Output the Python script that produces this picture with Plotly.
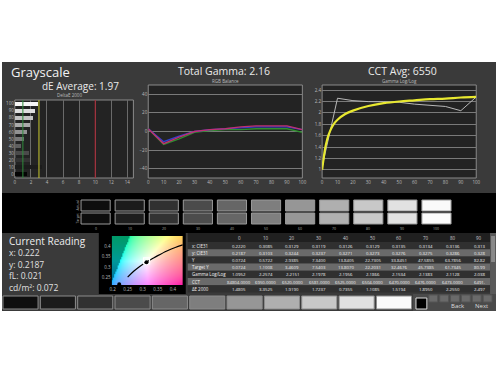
import plotly.graph_objects as go
import struct, zlib, base64

W, H = 500, 375
def PX(p): return p / W
def PY(p): return 1 - p / H

# ---------------- data ----------------
levels = [0, 10, 20, 30, 40, 50, 60, 70, 80, 90, 100]
level_labels = [str(v) for v in levels]
de2000 = [1.48, 3.35, 1.92, 1.72, 0.74, 1.11, 1.52, 1.90, 2.26, 2.50, 2.80]
bar_colors = ["#050505", "#1c1c1c", "#333333", "#4a4a4a", "#5f5f5f", "#787878",
              "#929292", "#aaaaaa", "#c4c4c4", "#dedede", "#f6f6f6"]
red_bal = [3, -13, -6, 0, 2, 3, 5, 6, 6, 6, 2]
green_bal = [3, -14, -8, -1, 1, 2, 2, 3, 3, 3, -1]
blue_bal = [3, -11, -5, 0, 2, 3, 4, 5, 5, 5, 2]
gamma_meas = [1.05, 2.2574, 2.2151, 2.1978, 2.1956, 2.1866, 2.1534, 2.1383, 2.1128, 2.038, 2.28]
gamma_tgt_x = [0, 1, 2, 3, 4, 5, 6, 8, 10, 15, 20, 30, 40, 50, 60, 70, 80, 90, 100]
gamma_tgt_y = [1.0, 1.2, 1.38, 1.5, 1.6, 1.67, 1.73, 1.82, 1.88, 1.98, 2.04, 2.12, 2.17,
               2.2, 2.22, 2.24, 2.25, 2.27, 2.28]
actual_gray = ["#0e0e0e", "#1b1b1b", "#313131", "#4b4b4b", "#666666", "#7e7e7e",
               "#969696", "#afafaf", "#c8c8c8", "#e1e1e1", "#fafafa"]
target_gray = ["#0d0d0d", "#1e1e1e", "#333333", "#4c4c4c", "#666666", "#7f7f7f",
               "#979797", "#b0b0b0", "#c9c9c9", "#e2e2e2", "#fbfbfb"]
locus_x = [0.25, 0.27, 0.29, 0.31, 0.33, 0.35, 0.38, 0.41, 0.433]
locus_y = [0.252, 0.28, 0.303, 0.322, 0.338, 0.354, 0.376, 0.394, 0.405]
cur_x, cur_y = 0.222, 0.2187
target_wp = (0.3127, 0.329)
table_cols = ["0", "10", "20", "30", "40", "50", "60", "70", "80", "90"]
table_rows = ["x: CIE31", "y: CIE31", "Y", "Target Y", "Gamma Log/Log", "CCT", "ΔE 2000"]
table_vals = [
    ["0.2220", "0.3085", "0.3129", "0.3119", "0.3126", "0.3129", "0.3135", "0.3134", "0.3136", "0.313"],
    ["0.2187", "0.3103", "0.3244", "0.3237", "0.3271", "0.3273", "0.3276", "0.3275", "0.3286", "0.328"],
    ["0.0724", "0.5722", "2.9385", "7.3400", "13.8405", "22.7305", "33.8451", "47.5855", "63.7856", "82.82"],
    ["0.0724", "1.1008", "3.4609", "7.5403", "13.8070", "22.2031", "32.4676", "45.7385", "61.7345", "80.99"],
    ["1.0952", "2.2574", "2.2151", "2.1978", "2.1956", "2.1866", "2.1534", "2.1383", "2.1128", "2.038"],
    ["84804.0000", "6950.0000", "6520.0000", "6581.0000", "6525.0000", "6504.0000", "6470.0000", "6476.0000", "6473.0000", "6491."],
    ["1.4805", "3.3525", "1.9190", "1.7237", "0.7355", "1.1085", "1.5194", "1.8950", "2.2550", "2.497"],
]
readings = ["x: 0.222", "y: 0.2187", "fL: 0.021", "cd/m²: 0.072"]

FONT = "Open Sans"
fig = go.Figure()
shapes, ann = [], []

def rect(x0, y0, x1, y1, fill, line=None, lw=1):
    shapes.append(dict(type="rect", xref="paper", yref="paper",
                       x0=PX(x0), x1=PX(x1), y0=PY(y1), y1=PY(y0),
                       fillcolor=fill, line=dict(color=line or fill, width=lw if line else 0),
                       layer="below"))

def text(x, y, s, size, color="#e8e8e8", xa="left", ang=0):
    ann.append(dict(x=PX(x), y=PY(y), xref="paper", yref="paper", text=s, showarrow=False,
                    xanchor=xa, yanchor="middle", textangle=ang,
                    font=dict(family=FONT, size=size, color=color)))

# backgrounds
rect(0, 62, 500, 311, "#3a3a3a")
rect(0, 193, 500, 233, "#000000")
# plot areas
rect(13, 100, 133, 178, "#232323", "#8a8a8a")
rect(148, 85, 304, 178, "#232323", "#8a8a8a")
rect(324, 85, 480, 178, "#232323", "#8a8a8a")

# titles
text(7, 72, "Grayscale", 13, "#f2f2f2")
text(38, 86, "dE Average: 1.97", 10, "#eaeaea")
text(225, 71, "Total Gamma: 2.16", 10.5, "#eaeaea", "center")
text(405, 71, "CCT Avg: 6550", 10.5, "#eaeaea", "center")
text(68, 95, "DeltaE 2000", 4.5, "#bbbbbb", "center")
text(226, 81, "RGB Balance", 4.5, "#bbbbbb", "center")
text(402, 81, "Gamma Log/Log", 4.5, "#bbbbbb", "center")

# ---- chart 1: dE bars
fig.add_trace(go.Bar(x=de2000, y=levels, orientation="h", width=6.2,
                     marker=dict(color=bar_colors, line=dict(width=0)),
                     xaxis="x", yaxis="y", showlegend=False))
ref_lines = [(1, "#2e8b3a"), (3, "#c8c830"), (10, "#b02030")]
for xv, c in ref_lines:
    fig.add_trace(go.Scatter(x=[xv, xv], y=[-6, 106], mode="lines",
                             line=dict(color=c, width=1), xaxis="x", yaxis="y", showlegend=False))

# ---- chart 2: RGB balance
for vals, c in [(green_bal, "#2f8f2f"), (blue_bal, "#3040d0"), (red_bal, "#c03070")]:
    fig.add_trace(go.Scatter(x=levels, y=vals, mode="lines", line=dict(color=c, width=1.4),
                             xaxis="x2", yaxis="y2", showlegend=False))

# ---- chart 3: gamma
fig.add_trace(go.Scatter(x=levels, y=gamma_meas, mode="lines", line=dict(color="#b8b8b8", width=1),
                         xaxis="x3", yaxis="y3", showlegend=False))
fig.add_trace(go.Scatter(x=gamma_tgt_x, y=gamma_tgt_y, mode="lines", line=dict(color="#e8e830", width=2.2, shape="spline"),
                         xaxis="x3", yaxis="y3", showlegend=False))

# ---- grayscale patches strip
for i, lv in enumerate(levels):
    x0 = 80 + 34.5 * i
    rect(x0, 200, x0 + 29.5, 211, actual_gray[i], "#9a9a9a")
    rect(x0, 213, x0 + 29.5, 224, target_gray[i], "#9a9a9a")
    text(x0 + 14.75, 228, level_labels[i], 3.5, "#aaaaaa", "center")
text(76, 205.5, "Actual", 3.5, "#aaaaaa", "center", -90)
text(76, 218.5, "Target", 3.5, "#aaaaaa", "center", -90)

# ---- current reading
text(5, 241, "Current Reading", 10, "#eeeeee")
for k, s in enumerate(readings):
    text(5, 252.5 + 11.5 * k, s, 8.5, "#e0e0e0")

# CIE box
rect(98, 233, 186, 294, "#000000")

def png_uri(rows):
    h = len(rows); w = len(rows[0])
    raw = b"".join(b"\x00" + bytes([c for px in r for c in px]) for r in rows)
    def chunk(t, d):
        c = struct.pack(">I", len(d)) + t + d
        return c + struct.pack(">I", zlib.crc32(t + d) & 0xffffffff)
    png = b"\x89PNG\r\n\x1a\n" + chunk(b"IHDR", struct.pack(">IIBBBBB", w, h, 8, 2, 0, 0, 0)) \
        + chunk(b"IDAT", zlib.compress(raw)) + chunk(b"IEND", b"")
    return "data:image/png;base64," + base64.b64encode(png).decode()

cx0, cx1, cy0, cy1 = 0.197, 0.433, 0.215, 0.447
gw, gh = 60, 40
rows = []
for j in range(gh):
    yy = cy1 - (j + 0.5) * (cy1 - cy0) / gh
    r_ = []
    for i in range(gw):
        xx = cx0 + (i + 0.5) * (cx1 - cx0) / gw
        Xc, Yc, Zc = xx / yy, 1.0, (1 - xx - yy) / yy
        R = 3.2406 * Xc - 1.5372 * Yc - 0.4986 * Zc
        G = -0.9689 * Xc + 1.8758 * Yc + 0.0415 * Zc
        B = 0.0557 * Xc - 0.2040 * Yc + 1.0570 * Zc
        outside = min(R, G, B) < 0
        R, G, B = max(R, 0), max(G, 0), max(B, 0)
        m = max(R, G, B)
        scale = 0.6 if outside else 1.0
        r_.append(tuple(int(255 * scale * (v / m) ** (1 / 2.2)) for v in (R, G, B)))
    rows.append(r_)
img_src = png_uri(rows)

fig.add_trace(go.Scatter(x=locus_x, y=locus_y, mode="lines", line=dict(color="#000000", width=1.2, shape="spline"),
                         xaxis="x4", yaxis="y4", showlegend=False))
fig.add_trace(go.Scatter(x=[target_wp[0]], y=[target_wp[1]], mode="markers",
                         marker=dict(symbol="square-open", size=6, color="#ffffff", line=dict(width=1.2)),
                         xaxis="x4", yaxis="y4", showlegend=False))
fig.add_trace(go.Scatter(x=[0.3125, cur_x], y=[0.3226, cur_y], mode="markers",
                         marker=dict(size=4, color="#000000"), xaxis="x4", yaxis="y4", showlegend=False))

# ---- table
col_x = [240, 267, 294, 321, 348, 375, 402, 429, 456, 483]
rect(188, 233, 494, 242, "#202020")
for k, name in enumerate(table_rows):
    y0 = 242 + 7.2 * k
    rect(188, y0, 494, y0 + 7.2, "#6a6a6a" if k % 2 else "#303030")
    text(190, y0 + 3.6, name, 4.4, "#f0f0f0")
    for c, v in enumerate(table_vals[k]):
        text(col_x[c], y0 + 3.6, v, 4.3, "#f0f0f0", "center")
for c, v in enumerate(table_cols):
    text(col_x[c], 237.5, v, 4.5, "#cccccc", "center")
rect(494, 233, 500, 294, "#5a5a5a")
rect(495, 236, 499, 262, "#8a8a8a")

# ---- bottom patches & controls
for i in range(11):
    x0 = 1 + 37.8 * i
    rect(x0, 296, x0 + 35.5, 309, actual_gray[i], "#8c8c8c")
rect(416, 294, 500, 311, "#4a4a4a")
rect(419, 298, 430, 309, "#000000", "#dddddd")
for b in range(6):
    rect(432 + 11 * b, 295, 441 + 11 * b, 302, "#6a6a6a", "#555555")
text(452, 306, "Back", 6, "#dddddd")
text(477, 306, "Next", 6, "#dddddd")

fig.update_layout(
    width=W, height=H, margin=dict(l=0, r=0, t=0, b=0),
    paper_bgcolor="#ffffff", plot_bgcolor="rgba(0,0,0,0)",
    shapes=shapes, annotations=ann, showlegend=False, bargap=0,
    images=[dict(source=img_src, xref="x4", yref="y4", x=cx0, y=cy1,
                 sizex=cx1 - cx0, sizey=cy1 - cy0, sizing="stretch", layer="below")],
)
tf = dict(family=FONT, size=4.5, color="#bbbbbb")
common = dict(showline=False, zeroline=False, ticks="", tickfont=tf, fixedrange=True)
fig.update_layout(
    xaxis=dict(domain=[PX(13), PX(133)], range=[0, 14.75], tickvals=list(range(0, 15, 2)),
               showgrid=True, gridcolor="#6a6a6a", gridwidth=1, anchor="y", **common),
    yaxis=dict(domain=[PY(178), PY(100)], range=[-5.5, 105.5], tickvals=levels, ticktext=level_labels,
               showgrid=False, anchor="x", **common),
    xaxis2=dict(domain=[PX(148), PX(304)], range=[0, 100], tickvals=levels,
                showgrid=False, anchor="y2", **common),
    yaxis2=dict(domain=[PY(178), PY(85)], range=[-50, 50], tickvals=[-40, -20, 0, 20, 40],
                showgrid=True, gridcolor="#7a7a7a", gridwidth=1, anchor="x2", **common),
    xaxis3=dict(domain=[PX(324), PX(480)], range=[0, 100], tickvals=levels,
                showgrid=False, anchor="y3", **common),
    yaxis3=dict(domain=[PY(178), PY(85)], range=[0.855, 2.49],
                tickvals=[1, 1.2, 1.4, 1.6, 1.8, 2, 2.2, 2.4], ticktext=["1", "1.2", "1.4", "1.6", "1.8", "2", "2.2", "2.4"],
                showgrid=True, gridcolor="#7a7a7a", gridwidth=1, anchor="x3", **common),
    xaxis4=dict(domain=[PX(111), PX(183)], range=[cx0, cx1], tickvals=[0.2, 0.25, 0.3, 0.35, 0.4],
                ticktext=["0.2", "0.25", "0.3", "0.35", "0.4"], showgrid=False, anchor="y4", **common),
    yaxis4=dict(domain=[PY(285), PY(236)], range=[cy0, cy1], tickvals=[0.25, 0.3, 0.35, 0.4],
                ticktext=["0.25", "0.3", "0.35", "0.4"], showgrid=False, anchor="x4", **common),
)
fig.write_html("out.html")
